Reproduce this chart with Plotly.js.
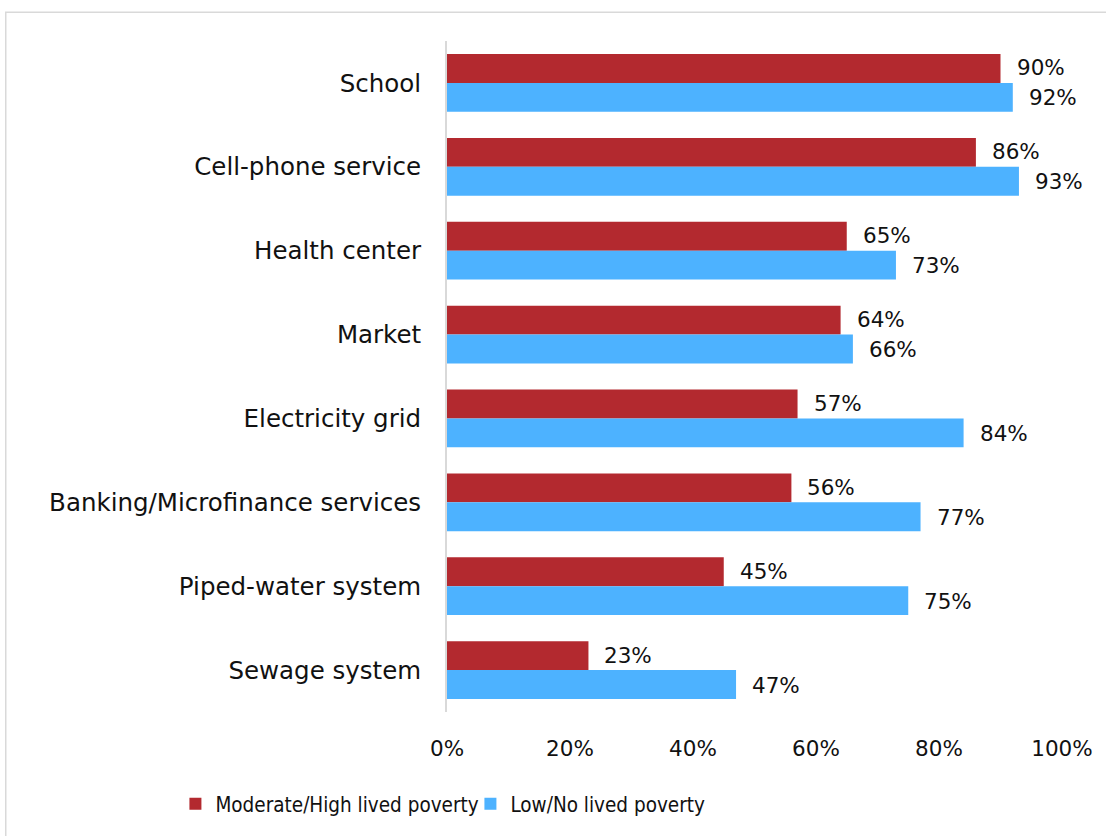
<!DOCTYPE html>
<html><head><meta charset="utf-8">
<script src="https://cdn.plot.ly/plotly-3.0.1.min.js"></script>
<style>body{margin:0;background:#fff}#c{width:1106px;height:836px}</style>
</head><body><div id="c"></div>
<script>
const categories = ["School","Cell-phone service","Health center","Market","Electricity grid","Banking/Microfinance services","Piped-water system","Sewage system"];
const seriesNames = ["Moderate/High lived poverty","Low/No lived poverty"];
const moderateHigh = [90,86,65,64,57,56,45,23];
const lowNo = [92,93,73,66,84,77,75,47];
const tickValues = [0,20,40,60,80,100];

const FONT = "'DejaVu Sans', sans-serif";
const NARROW = "'DejaVu Sans Condensed', 'Liberation Sans Narrow', sans-serif";
const FS = 21.5;
const colors = ["#B3292F","#4DB2FF"];
const traces = [moderateHigh, lowNo].map((vals,i)=>({
  type:'bar', orientation:'h', y:categories, x:vals, name:seriesNames[i],
  marker:{color:colors[i]}, hoverinfo:'skip'
}));
const annotations = [];
[moderateHigh, lowNo].forEach((vals,i)=>{
  vals.forEach((v,j)=>{
    annotations.push({x:v, y:categories[j], xref:'x', yref:'y', text:v+'%', showarrow:false,
      xanchor:'left', xshift:14, yshift:(i===0?15:-15), font:{family:FONT,size:FS,color:'#111'}});
  });
});
const layout = {
  width:1106, height:836,
  margin:{l:447, r:44, t:41, b:120},
  paper_bgcolor:'#fff', plot_bgcolor:'#fff',
  barmode:'group', bargap:0.31, bargroupgap:0,
  font:{family:FONT, size:FS, color:'#111'},
  xaxis:{range:[0,100], tickvals:tickValues, ticktext:tickValues.map(v=>v+'%'), showgrid:false, zeroline:false,
    showline:false, ticks:'', ticklabelstandoff:21, tickfont:{family:FONT,size:FS,color:'#111'}, fixedrange:true},
  yaxis:{autorange:'reversed', showgrid:false, zeroline:false, showline:true, linecolor:'#d9d9d9', linewidth:2,
    ticks:'', ticklabelstandoff:19, tickfont:{family:FONT,size:24.5,color:'#111'}, fixedrange:true},
  showlegend:true,
  legend:{orientation:'h', x:-0.4416, xanchor:'left', y:-0.137, yanchor:'middle', font:{family:NARROW,size:20.5,color:'#111'},
    entrywidth:250, entrywidthmode:'pixels', itemwidth:30, tracegroupgap:0, traceorder:'normal'},
  annotations:annotations,
  shapes:[{type:'rect', xref:'paper', yref:'paper', x0:-0.7175, x1:1.2, y0:-0.3, y1:1.043,
    line:{color:'#d9d9d9', width:1.5}, fillcolor:'rgba(0,0,0,0)', layer:'below'}]
};
Plotly.newPlot('c', traces, layout, {staticPlot:true, displayModeBar:false});
</script></body></html>
